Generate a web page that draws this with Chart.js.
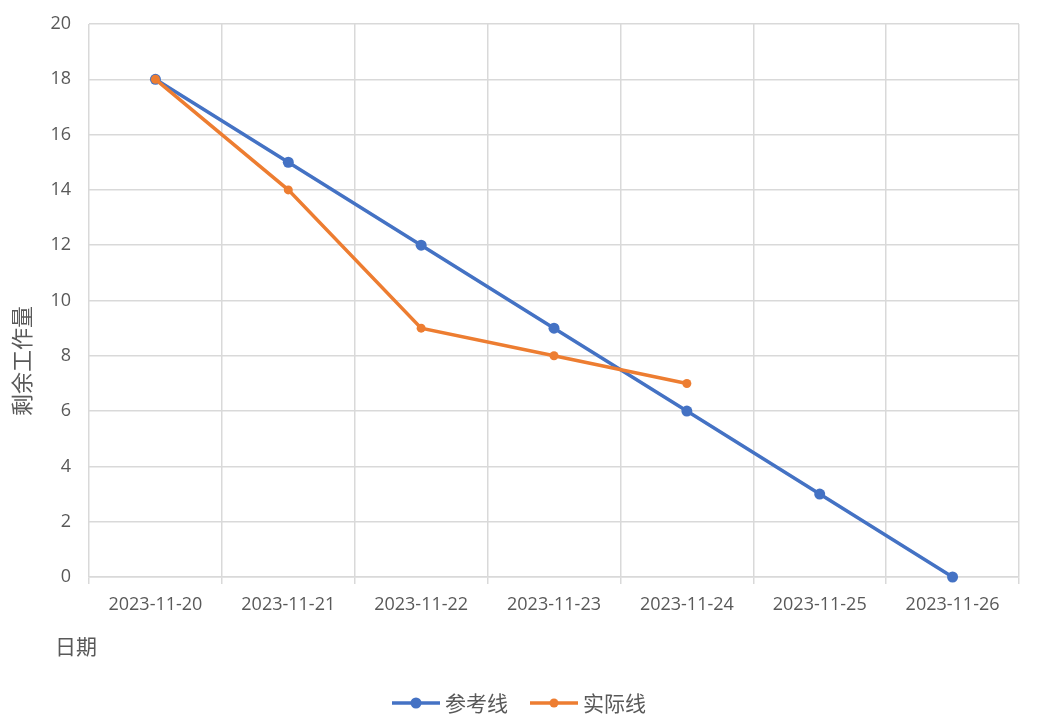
<!DOCTYPE html>
<html>
<head>
<meta charset="utf-8">
<script src="https://cdn.jsdelivr.net/npm/chart.js@4/dist/chart.umd.min.js"></script>
<style>
html, body { margin: 0; padding: 0; background: #fff; }
</style>
</head>
<body>
<canvas id="myChart" width="1038" height="722"></canvas>
<script>
var dates = ['2023-11-20', '2023-11-21', '2023-11-22', '2023-11-23', '2023-11-24', '2023-11-25', '2023-11-26'];
var planData = [18, 15, 12, 9, 6, 3, 0];
var actualData = [18, 14, 9, 8, 7];
var yMin = 0, yMax = 20, yStep = 2;

var textColor = '#595959';
var gridColor = '#d9d9d9';
var cjkFont = '"Noto Sans CJK SC", sans-serif';

// axis titles + legend drawn by hand, Excel style
var textPlugin = {
    id: 'textPlugin',
    afterDraw: function(chart) {
        var c = chart.ctx;
        c.save();
        c.fillStyle = textColor;
        c.textBaseline = 'middle';

        c.font = '21px ' + cjkFont;
        c.textAlign = 'left';
        c.fillText('日期', 55, 646);

        c.save();
        c.translate(22, 361);
        c.rotate(-Math.PI / 2);
        c.textAlign = 'center';
        c.font = '22px ' + cjkFont;
        c.fillText('剩余工作量', 0, 0);
        c.restore();

        // legend
        c.font = '21px ' + cjkFont;
        var items = [chart.data.datasets[1], chart.data.datasets[0]];
        var lineW = 48, gap = 5, between = 22;
        var total = 0;
        items.forEach(function(d, i) {
            total += lineW + gap + c.measureText(d.label).width;
            if (i > 0) total += between;
        });
        var x = chart.width / 2 - total / 2;
        var y = 703;
        items.forEach(function(d) {
            c.strokeStyle = d.borderColor;
            c.lineWidth = 3.5;
            c.beginPath();
            c.moveTo(x, y);
            c.lineTo(x + lineW, y);
            c.stroke();
            c.fillStyle = d.borderColor;
            c.beginPath();
            c.arc(x + lineW / 2, y, d.pointRadius, 0, Math.PI * 2);
            c.fill();
            c.fillStyle = textColor;
            c.textAlign = 'left';
            c.fillText(d.label, x + lineW + gap, y);
            x += lineW + gap + c.measureText(d.label).width + between;
        });
        c.restore();
    }
};

var ctx = document.getElementById('myChart').getContext('2d');

var chart = new Chart(ctx, {
    type: 'line',
    data: {
        labels: dates,
        datasets: [{
            label: '实际线',
            data: actualData,
            borderColor: '#ED7D31',
            backgroundColor: '#ED7D31',
            borderWidth: 3.5,
            pointRadius: 4.5,
            pointBorderWidth: 0,
            pointHoverRadius: 4.5,
            clip: false,
            order: 0
        }, {
            label: '参考线',
            data: planData,
            borderColor: '#4472C4',
            backgroundColor: '#4472C4',
            borderWidth: 3.5,
            pointRadius: 5.5,
            pointBorderWidth: 0,
            pointHoverRadius: 5.5,
            clip: false,
            order: 1
        }]
    },
    options: {
        responsive: false,
        animation: false,
        layout: {
            padding: { left: 0, top: 24, right: 19, bottom: 0 }
        },
        plugins: {
            legend: { display: false },
            tooltip: { enabled: false }
        },
        scales: {
            x: {
                offset: true,
                grid: {
                    offset: true,
                    color: gridColor,
                    lineWidth: 1.5,
                    tickLength: 7,
                    tickColor: gridColor
                },
                border: { color: gridColor, width: 1.5 },
                ticks: {
                    color: textColor,
                    font: { family: '"Open Sans"', size: 18 },
                    padding: 10,
                    maxRotation: 0,
                    autoSkip: false
                },
                afterFit: function(scale) { scale.height = 145; }
            },
            y: {
                min: yMin,
                max: yMax,
                grid: {
                    color: gridColor,
                    lineWidth: 1.5,
                    drawTicks: false
                },
                border: { display: false },
                ticks: {
                    stepSize: yStep,
                    color: textColor,
                    font: { family: '"Open Sans"', size: 18 },
                    padding: 18
                },
                afterFit: function(scale) {
                    scale.width = 89;
                    scale.paddingTop = 0;
                    scale.paddingBottom = 0;
                }
            }
        }
    },
    plugins: [textPlugin]
});
</script>
</body>
</html>
